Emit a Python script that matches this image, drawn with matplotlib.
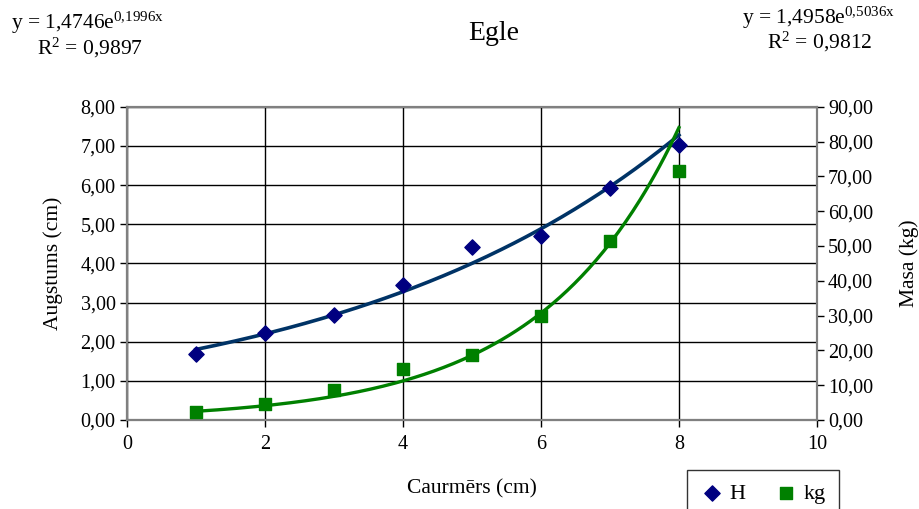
import numpy as np
import matplotlib
matplotlib.use("Agg")
import matplotlib.pyplot as plt
from matplotlib.ticker import FuncFormatter

plt.rcParams['font.family'] = ['Liberation Serif', 'DejaVu Serif']

# Dati
caurmers = [1, 2, 3, 4, 5, 6, 7, 8]
augstums = [1.69, 2.22, 2.69, 3.45, 4.42, 4.71, 5.93, 7.03]
masa = [2.3, 4.5, 8.6, 14.6, 18.7, 29.9, 51.4, 71.6]

# Trenda koeficienti (no diagrammas)
h_a, h_b = 1.4746, 0.1996
kg_a, kg_b = 1.4958, 0.5036

def komats(v, pos):
    return f"{v:.2f}".replace('.', ',')

fig = plt.figure(figsize=(9.19, 5.09), dpi=100)
ax = fig.add_axes([0.138, 0.175, 0.751, 0.615])
ax2 = ax.twinx()

xs = np.linspace(1, 8, 200)
ax.plot(xs, h_a * np.exp(h_b * xs), color='#003366', lw=2.6, zorder=3)
ax.scatter(caurmers, augstums, marker='D', s=60, color='#000080', zorder=4)
ax2.plot(xs, kg_a * np.exp(kg_b * xs), color='#008000', lw=2.4, zorder=3)
ax2.scatter(caurmers, masa, marker='s', s=65, color='#008000', zorder=4)

ax.set_xlim(0, 10)
ax.set_ylim(0, 8)
ax2.set_ylim(0, 90)
ax.set_xticks(np.arange(0, 11, 2))
ax.set_yticks(np.arange(0, 9, 1))
ax2.set_yticks(np.arange(0, 91, 10))
ax.yaxis.set_major_formatter(FuncFormatter(komats))
ax2.yaxis.set_major_formatter(FuncFormatter(komats))

ax.grid(True, color='black', lw=1)
ax.set_axisbelow(True)
for a in (ax, ax2):
    a.tick_params(labelsize=14.5, length=5, direction='out', width=1, pad=3)
    for s in a.spines.values():
        s.set_color('#808080')
        s.set_linewidth(1.5)
ax.spines['left'].set_color('black')
ax.spines['bottom'].set_color('black')
ax.tick_params(axis='x', pad=6)

ax.set_xlabel('Caurmērs (cm)', fontsize=15.5, labelpad=18)
ax.set_ylabel('Augstums (cm)', fontsize=15.5, labelpad=13)
ax2.set_ylabel('Masa (kg)', fontsize=15.5, labelpad=19)

fig.text(0.537, 0.935, 'Egle', fontsize=20, ha='center', va='center')
fig.text(0.012, 0.955, r'y = 1,4746e$\mathregular{^{0{,}1996x}}$', fontsize=15.5, ha='left', va='center')
fig.text(0.04, 0.905, r'R$\mathregular{^{2}}$ = 0,9897', fontsize=15.5, ha='left', va='center')
fig.text(0.807, 0.965, r'y = 1,4958e$\mathregular{^{0{,}5036x}}$', fontsize=15.5, ha='left', va='center')
fig.text(0.835, 0.918, r'R$\mathregular{^{2}}$ = 0,9812', fontsize=15.5, ha='left', va='center')

h1 = ax.scatter([], [], marker='D', s=60, color='#000080', label='H')
h2 = ax.scatter([], [], marker='s', s=65, color='#008000', label='kg')
leg = fig.legend(handles=[h1, h2], loc='upper left', bbox_to_anchor=(0.748, 0.077),
                 ncol=2, fontsize=16, frameon=True, fancybox=False,
                 handlelength=1.0, handletextpad=0.3, columnspacing=1.3,
                 borderpad=0.6, borderaxespad=0)
leg.get_frame().set_edgecolor('black')
leg.get_frame().set_linewidth(1)

fig.savefig('out.png', dpi=100)
